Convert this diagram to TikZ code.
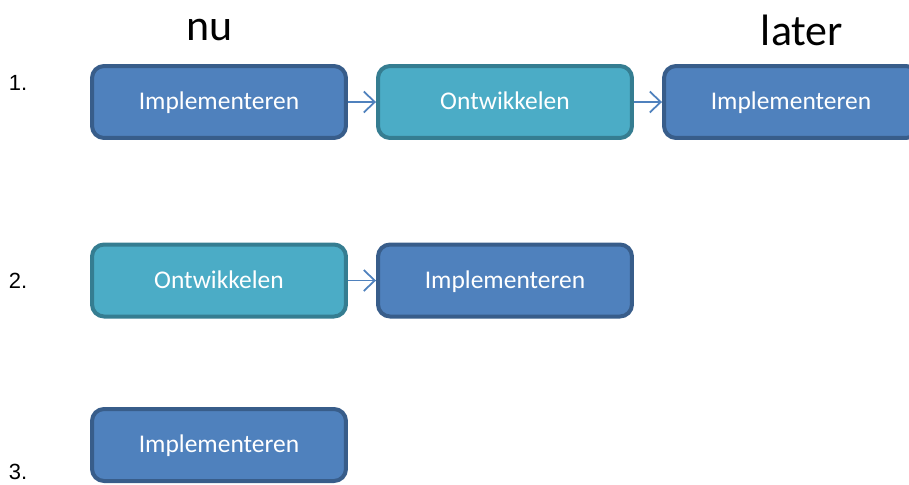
\documentclass[tikz,border=0pt]{standalone}
\usepackage{fontspec}
\setmainfont{Carlito}
\newfontfamily\arialfont{Liberation Sans}
\usetikzlibrary{arrows.meta}
\definecolor{boxblue}{HTML}{4F81BD}
\definecolor{edgeblue}{HTML}{385D8A}
\definecolor{boxteal}{HTML}{4BACC6}
\definecolor{edgeteal}{HTML}{357D91}

\begin{document}
\begin{tikzpicture}[x=0.02cm,y=-0.02cm,
  impl/.style={draw=edgeblue,fill=boxblue,line width=0.08cm,rounded corners=0.24cm,
    minimum width=5.08cm,minimum height=1.44cm,text=white,text height=10.4pt,text depth=1.8pt,
    font=\fontsize{14.5}{16}\selectfont},
  ontw/.style={impl,draw=edgeteal,fill=boxteal},
  nr/.style={font=\arialfont\fontsize{12.5}{14}\selectfont,inner sep=0pt},
  kop/.style={font=\fontsize{25}{28}\selectfont,inner sep=0pt},
  pijl/.style={draw=boxblue,line width=1pt,-{Straight Barb[length=2.2mm,width=4.2mm]}}]
  \clip (0,0) rectangle (909,484);
  \path (210,30) node[kop] (nu) {nu} (802,30) node[kop] (later) {later};
  \path (18,83) node[nr] (n1) {1.} (18,281) node[nr] (n2) {2.} (18,472) node[nr] (n3) {3.};
  % rij 1
  \path (219,102) node[impl] (a1) {Implementeren} (505,102) node[ontw] (a2) {Ontwikkelen}
  (791,102) node[impl] (a3) {Implementeren};
  \draw[pijl] (a1) -- (a2);
  \draw[pijl] (a2) -- (a3);
  % rij 2
  \path (219,280.5) node[ontw] (b1) {Ontwikkelen} (505,280.5) node[impl] (b2) {Implementeren};
  \draw[pijl] (b1) -- (b2);
  % rij 3
  \path (219,445) node[impl] (c1) {Implementeren};
\end{tikzpicture}
\end{document}
